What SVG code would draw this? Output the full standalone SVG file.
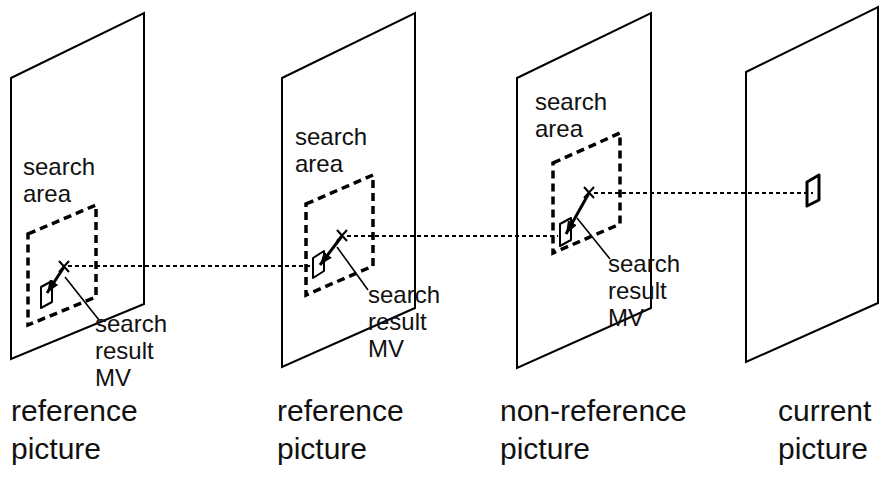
<svg xmlns="http://www.w3.org/2000/svg" width="880" height="483" viewBox="0 0 880 483">
  <style>
    .plane { fill: none; stroke: #000; stroke-width: 2; stroke-linejoin: miter; }
    .area { fill: none; stroke: #000; stroke-width: 3.5; stroke-dasharray: 8 5; }
    .block { fill: none; stroke: #000; stroke-width: 2; stroke-linejoin: round; }
    .block-cur { fill: none; stroke: #000; stroke-width: 3; stroke-linejoin: round; }
    .xmark { stroke: #000; stroke-width: 2; }
    .mv { stroke: #000; stroke-width: 3; fill: none; }
    .leader { stroke: #000; stroke-width: 1.6; }
    .link { stroke: #000; stroke-width: 2.2; stroke-dasharray: 4 3; fill: none; }
    .lbl { font-family: "Liberation Sans", Arial, Helvetica, sans-serif; font-size: 24px; fill: #111; }
    .cap { font-family: "Liberation Sans", Arial, Helvetica, sans-serif; font-size: 30px; fill: #111; }
  </style>
  <defs>
    <marker id="head" markerUnits="userSpaceOnUse" markerWidth="16" markerHeight="12" refX="13" refY="5" orient="auto">
      <path d="M0,0 L13,5 L0,10 Z" fill="#000"/>
    </marker>
  </defs>

  <rect width="880" height="483" fill="#fff"/>

  <!-- motion search connectors between pictures -->
  <g id="connectors">
    <line class="link" x1="68" y1="266" x2="312" y2="266"/>
    <line class="link" x1="347" y1="236" x2="558" y2="236"/>
    <line class="link" x1="594" y1="193" x2="813" y2="193"/>
  </g>

  <!-- first reference picture -->
  <g id="ref-picture-1">
    <polygon class="plane" points="11,78 144,13 144,304 11,359"/>
    <polygon class="area" points="28,234 96,205 96,297 28,325"/>
    <polygon class="block" points="41,287 52,281 52,302 41,308"/>
    <path class="xmark" d="M59,261 L69,272 M69,261 L59,272"/>
    <line class="mv" x1="64" y1="267" x2="47" y2="293" marker-end="url(#head)"/>
    <line class="leader" x1="65" y1="277" x2="99" y2="320"/>
    <text class="lbl" x="23" y="175">search</text>
    <text class="lbl" x="23" y="202">area</text>
    <text class="lbl" x="95" y="332">search</text>
    <text class="lbl" x="95" y="359">result</text>
    <text class="lbl" x="95" y="386">MV</text>
    <text class="cap" x="11" y="421">reference</text>
    <text class="cap" x="11" y="459">picture</text>
  </g>

  <!-- second reference picture -->
  <g id="ref-picture-2">
    <polygon class="plane" points="282,78 415,13 415,308 282,367"/>
    <polygon class="area" points="306,204 373,175 373,266 306,295"/>
    <polygon class="block" points="313,258 324,251 324,271 313,278"/>
    <path class="xmark" d="M337,230 L347,241 M347,230 L337,241"/>
    <line class="mv" x1="342" y1="236" x2="320" y2="265" marker-end="url(#head)"/>
    <line class="leader" x1="337" y1="247" x2="368" y2="290"/>
    <text class="lbl" x="295" y="145">search</text>
    <text class="lbl" x="295" y="172">area</text>
    <text class="lbl" x="368" y="303">search</text>
    <text class="lbl" x="368" y="330">result</text>
    <text class="lbl" x="368" y="357">MV</text>
    <text class="cap" x="277" y="421">reference</text>
    <text class="cap" x="277" y="459">picture</text>
  </g>

  <!-- non-reference picture -->
  <g id="non-ref-picture">
    <polygon class="plane" points="517,78 651,13 651,308 517,368"/>
    <polygon class="area" points="553,163 620,133 620,224 553,253"/>
    <polygon class="block" points="560,224 571,218 571,240 560,246"/>
    <path class="xmark" d="M584,187 L594,198 M594,187 L584,198"/>
    <line class="mv" x1="589" y1="193" x2="566" y2="234" marker-end="url(#head)"/>
    <line class="leader" x1="577" y1="218" x2="610" y2="259"/>
    <text class="lbl" x="535" y="110">search</text>
    <text class="lbl" x="535" y="137">area</text>
    <text class="lbl" x="608" y="272">search</text>
    <text class="lbl" x="608" y="299">result</text>
    <text class="lbl" x="608" y="326">MV</text>
    <text class="cap" x="500" y="421">non-reference</text>
    <text class="cap" x="500" y="459">picture</text>
  </g>

  <!-- current picture -->
  <g id="current-picture">
    <polygon class="plane" points="746,72 878,7 878,303 746,362"/>
    <polygon class="block-cur" points="807,182 819,175 819,200 807,206"/>
    <text class="cap" x="778" y="421">current</text>
    <text class="cap" x="778" y="459">picture</text>
  </g>
</svg>
